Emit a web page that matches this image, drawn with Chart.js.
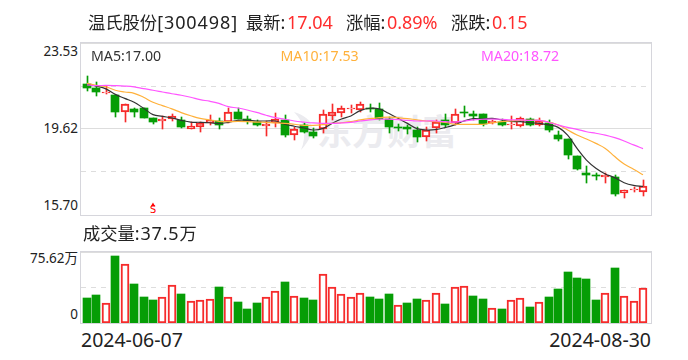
<!DOCTYPE html>
<html><head><meta charset="utf-8">
<script src="https://cdn.jsdelivr.net/npm/chart.js@4"></script>
<style>
html,body{margin:0;padding:0;background:#fff;width:688px;height:360px;overflow:hidden}
canvas{position:absolute;left:0}
.t{position:absolute;white-space:pre;color:#222;line-height:24px;font-family:"Noto Sans","Noto Sans CJK SC",sans-serif}
.c{font-family:"Noto Sans CJK SC",sans-serif;font-size:17.3px}
.n{font-size:18px}
.r{color:#ff2d2d;margin-left:1.5px}
.m{font-size:14.2px;line-height:20px}
</style></head><body>
<canvas id="price" width="688" height="232" style="top:0;width:688px;height:232px"></canvas>
<canvas id="volume" width="688" height="128" style="top:232px;width:688px;height:128px"></canvas>
<div class="t" style="left:88px;top:10px"><span class="c">温氏股份</span><span class="n" style="letter-spacing:.9px">[300498]</span></div>
<div class="t" style="left:246px;top:10px"><span class="c">最新</span><span class="n">:</span><span class="n r">17.04</span></div>
<div class="t" style="left:346px;top:10px"><span class="c">涨幅</span><span class="n">:</span><span class="n r">0.89%</span></div>
<div class="t" style="left:451px;top:10px"><span class="c">涨跌</span><span class="n">:</span><span class="n r">0.15</span></div>
<div class="t m" style="left:91px;top:46px;color:#333">MA5:17.00</div>
<div class="t m" style="left:280.5px;top:46px;color:#ffb13b">MA10:17.53</div>
<div class="t m" style="left:481px;top:46px;color:#ff55ff">MA20:18.72</div>
<div class="t" style="left:83px;top:221px"><span class="c">成交量</span><span class="n" style="letter-spacing:.8px">:37.5</span><span class="c">万</span></div>
<script>
const dateLabels = ['2024-06-07','2024-08-30'];
const priceTicks = [15.70,17.66,19.62,21.57,23.53];
const volumeMax = 75.62;
const open = [21.66,21.48,21.27,21.16,20.40,20.53,20.57,20.12,19.98,20.06,20.03,19.62,19.72,19.87,19.97,19.92,20.39,20.07,19.95,19.75,
19.87,20.03,19.34,19.78,19.48,19.63,20.22,20.33,20.53,20.47,20.57,20.53,20.06,19.72,19.69,19.57,19.24,19.68,20.03,19.87,
20.39,20.30,20.30,19.87,19.92,19.78,19.77,20.06,19.81,19.87,19.34,19.16,18.39,17.61,17.51,17.45,17.43,16.72,16.84,16.76];
const close = [21.48,21.32,21.32,20.40,20.74,20.39,20.13,19.95,20.06,20.19,19.71,19.74,19.87,20.03,19.81,20.37,20.07,19.99,19.80,19.83,
20.09,19.34,19.60,19.50,19.30,20.28,20.37,20.56,20.56,20.74,20.53,20.07,19.71,19.68,19.63,19.25,19.57,19.95,19.78,20.28,
20.33,20.19,19.84,20.00,19.81,19.83,20.10,19.81,19.96,19.57,19.16,18.43,17.79,17.52,17.46,17.52,16.66,16.82,16.88,17.04];
const high = [22.03,21.74,21.57,21.16,20.75,20.56,20.57,20.13,20.22,20.30,20.15,19.92,19.95,20.24,20.12,20.59,20.59,20.21,20.03,19.96,
20.33,20.24,19.69,19.87,19.65,20.48,20.74,20.66,20.69,20.85,20.74,20.82,20.15,19.84,19.80,19.69,19.72,20.01,20.30,20.53,
20.66,20.44,20.30,20.03,20.09,20.21,20.15,20.13,20.10,20.03,19.52,19.16,18.39,17.93,17.63,17.60,17.52,16.84,16.99,17.29];
const low = [21.36,21.13,21.22,20.18,19.95,20.18,20.10,19.86,19.62,20.00,19.65,19.60,19.49,19.81,19.62,19.90,20.06,19.84,19.75,19.30,
19.72,19.27,19.12,19.45,19.19,19.45,20.03,20.16,20.33,20.40,20.40,20.03,19.42,19.54,19.39,19.04,19.07,19.42,19.72,19.80,
20.18,20.03,19.75,19.83,19.75,19.60,19.69,19.75,19.75,19.48,19.09,18.27,17.75,17.17,17.29,17.14,16.58,16.48,16.75,16.57];
const ma5 = [21.66,21.57,21.44,21.19,21.01,20.83,20.56,20.27,20.19,20.12,20.01,19.93,19.92,19.90,19.86,19.92,20.01,20.01,19.98,19.98,
19.98,19.83,19.74,19.66,19.57,19.63,19.87,20.07,20.21,20.45,20.56,20.53,20.33,20.10,19.87,19.63,19.57,19.59,19.68,19.80,
19.98,20.09,20.07,20.10,20.03,19.96,19.95,19.90,19.87,19.80,19.69,19.34,18.73,18.20,17.83,17.57,17.40,17.17,17.05,17.00];
const ma10 = [21.69,21.60,21.54,21.38,21.30,21.24,21.06,20.83,20.68,20.53,20.36,20.22,20.10,20.03,19.96,19.95,19.96,19.95,19.93,19.92,
19.89,19.87,19.83,19.78,19.78,19.81,19.87,19.90,19.95,20.03,20.09,20.13,20.16,20.13,20.09,20.03,19.98,19.95,19.92,19.83,
19.83,19.83,19.83,19.89,19.95,19.98,20.01,20.01,20.01,19.92,19.80,19.57,19.34,19.16,18.96,18.73,18.36,18.02,17.78,17.53];
const ma20 = [21.62,21.59,21.60,21.59,21.57,21.53,21.45,21.38,21.30,21.22,21.15,21.06,20.95,20.88,20.78,20.63,20.57,20.48,20.37,20.24,
20.13,20.06,19.98,19.93,19.89,19.87,19.87,19.89,19.92,19.98,20.03,20.06,20.06,20.04,20.01,19.98,19.98,19.98,19.95,19.93,
19.98,20.03,20.06,20.06,20.06,20.03,20.03,20.01,20.01,19.92,19.80,19.69,19.60,19.49,19.42,19.34,19.22,19.07,18.89,18.72];
const volume = [26.8,30.0,21.2,71.2,62.4,41.6,27.8,24.7,27.5,40.2,31.0,23.3,24.3,25.4,38.4,27.5,22.6,15.2,21.5,27.5,
33.8,43.7,28.6,26.8,24.7,51.8,38.1,30.7,27.5,31.7,27.8,25.7,31.0,19.0,21.5,25.7,24.3,31.7,20.4,38.1,
39.1,28.9,25.7,15.9,15.2,24.3,26.4,17.3,22.2,27.8,36.3,54.3,47.9,46.9,24.7,31.7,58.5,28.6,23.3,37.5];
const volumeRed = [0,0,1,0,1,0,0,0,1,1,0,1,1,1,0,1,0,0,0,1,1,0,1,0,0,1,1,1,1,1,0,0,0,1,0,0,1,1,0,1,1,0,0,1,0,1,1,0,1,0,0,0,0,0,0,1,0,1,1,1];
const signalIndex = 7, signalLabel = 'S', signalPrice = 16.15;
const watermark = '东方财富';

const RED='#f62b2b', GREEN='#069d06', FRAME='#d6d6dc', GRID='#dddddd';
const idx = open.map((_,i)=>i);
const isUp = i => close[i] >= open[i];
const FONT = '"Noto Sans","Noto Sans CJK SC",sans-serif';

['price','volume'].forEach(id=>document.getElementById(id).getContext('2d',{alpha:false}));

const frame = {
  id:'frame',
  beforeDraw(c){ const x=c.ctx; x.save(); x.fillStyle='#fff'; x.fillRect(0,0,c.width,c.height); x.restore(); },
  beforeDatasetsDraw(c){
    const a=c.chartArea,x=c.ctx; x.save(); x.strokeStyle=FRAME; x.lineWidth=1;
    x.strokeRect(a.left-.5,a.top-.5,a.right-a.left+1,a.bottom-a.top+1);
    x.restore();
  }
};
const snap = {
  id:'snap',
  afterDatasetsUpdate(c){
    c.data.datasets.forEach((d,k)=>{
      if(d.type!=='bar')return;
      const off=d.wick?0.5:0;
      c.getDatasetMeta(k).data.forEach(el=>{
        el.x=Math.round(el.x)+off;
        el.y=Math.round(el.y); el.base=Math.round(el.base);
        if(el.base===el.y) el.base=el.y+1;
      });
    });
  }
};
const wm = {
  id:'wm',
  beforeDatasetsDraw(c){
    const x=c.ctx; x.save();
    x.fillStyle='#ebebef'; x.font='bold 35px "Noto Sans CJK SC",sans-serif';
    x.textBaseline='middle'; x.textAlign='left';
    x.fillText(watermark,317,132);
    x.beginPath(); x.moveTo(294,112); x.quadraticCurveTo(326,122,301,150); x.quadraticCurveTo(310,128,294,112); x.fill();
    x.restore();
  }
};
const signal = {
  id:'signal',
  afterDatasetsDraw(c){
    const px=c.scales.x.getPixelForValue(signalIndex), x=c.ctx;
    const b=c.chartArea.bottom;
    x.save(); x.fillStyle='#f00'; x.font='11px "DejaVu Sans Mono",monospace';
    x.textAlign='center'; x.textBaseline='bottom';
    x.fillText(signalLabel,Math.round(px),b+1);
    x.restore();
  }
};
const noPad = s => { s.paddingLeft=s.paddingRight=s.paddingTop=s.paddingBottom=0; };
const xScale = {
  type:'linear', min:-0.64, max:59.85, offset:false,
  grid:{display:false,drawTicks:false,offset:false}, border:{display:false}
};

new Chart(document.getElementById('price'),{
  data:{labels:idx,datasets:[
    {type:'line',data:ma20,borderColor:'#ff55ff',borderWidth:1.2,pointRadius:0,tension:.4,order:1},
    {type:'line',data:ma10,borderColor:'#ffb13b',borderWidth:1.2,pointRadius:0,tension:.4,order:2},
    {type:'line',data:ma5,borderColor:'#333333',borderWidth:1.2,pointRadius:0,tension:.4,order:3},
    {type:'line',data:idx.map(i=>i===signalIndex?signalPrice:null),showLine:false,pointStyle:'triangle',pointRadius:2.6,
     pointBackgroundColor:'#f00',pointBorderColor:'#f00',pointBorderWidth:0,order:4},
    {type:'bar',data:idx.map(i=>[open[i],close[i]]),barThickness:8,grouped:false,borderSkipped:false,
     borderWidth:c=>isUp(c.dataIndex)?2:0,
     borderColor:c=>isUp(c.dataIndex)?RED:GREEN,
     backgroundColor:c=>isUp(c.dataIndex)?'#fff':GREEN,order:5},
    {type:'bar',wick:true,data:idx.map(i=>[low[i],high[i]]),barThickness:1,grouped:false,borderWidth:0,
     backgroundColor:c=>isUp(c.dataIndex)?RED:GREEN,order:6}
  ]},
  plugins:[frame,snap,wm,signal],
  options:{
    animation:false,responsive:false,events:[],
    layout:{padding:{left:0,right:37,top:43,bottom:17}},
    plugins:{legend:{display:false},tooltip:{enabled:false},title:{display:false}},
    scales:{
      x:{...xScale,ticks:{display:false},afterFit(s){s.height=0;noPad(s);}},
      y:{
        min:priceTicks[0],max:priceTicks[4],
        afterFit(s){s.width=81;noPad(s);},
        afterBuildTicks(s){s.ticks=priceTicks.map(value=>({value}));},
        grid:{drawTicks:false,color:GRID,lineWidth:1},
        border:{display:false,dash:ctx=>ctx.index===1||ctx.index===3?[5,5]:[]},
        ticks:{padding:3,autoSkip:false,color:'#222',font:{family:FONT,size:13.5,lineHeight:'18px'},
          callback(v,i){
            if(i===0)return [v.toFixed(2),''];
            if(i===4)return ['',v.toFixed(2)];
            return i===2?v.toFixed(2):'';
          }}
      }
    }
  }
});

new Chart(document.getElementById('volume'),{
  data:{labels:idx,datasets:[
    {type:'bar',data:volume,barThickness:8,borderSkipped:false,
     borderWidth:c=>volumeRed[c.dataIndex]?2:0,
     borderColor:c=>volumeRed[c.dataIndex]?RED:GREEN,
     backgroundColor:c=>volumeRed[c.dataIndex]?'#fff':GREEN}
  ]},
  plugins:[frame,snap],
  options:{
    animation:false,responsive:false,events:[],
    layout:{padding:{left:0,right:37,top:20,bottom:0}},
    plugins:{legend:{display:false},tooltip:{enabled:false}},
    scales:{
      x:{...xScale,position:'bottom',
        afterBuildTicks(s){s.ticks=[{value:s.min},{value:s.max}];},
        afterFit(s){s.height=37;noPad(s);},
        ticks:{display:true,autoSkip:false,maxRotation:0,minRotation:0,align:'inner',padding:7,color:'#222',
          font:{family:FONT,size:19.5},
          callback(v,i){return dateLabels[i];}}
      },
      y:{
        min:0,max:volumeMax,
        afterFit(s){s.width=81;noPad(s);},
        afterBuildTicks(s){s.ticks=[{value:0},{value:volumeMax/2},{value:volumeMax}];},
        grid:{drawTicks:false,color:GRID},
        border:{display:false,dash:ctx=>ctx.index===1?[5,5]:[]},
        ticks:{padding:3,autoSkip:false,color:'#222',font:{family:FONT,size:13.5,lineHeight:'15px'},
          callback(v,i){
            if(i===0)return ['0',''];
            if(i===2)return ['',v.toFixed(2)+'万'];
            return '';
          }}
      }
    }
  }
});
</script>
</body></html>
